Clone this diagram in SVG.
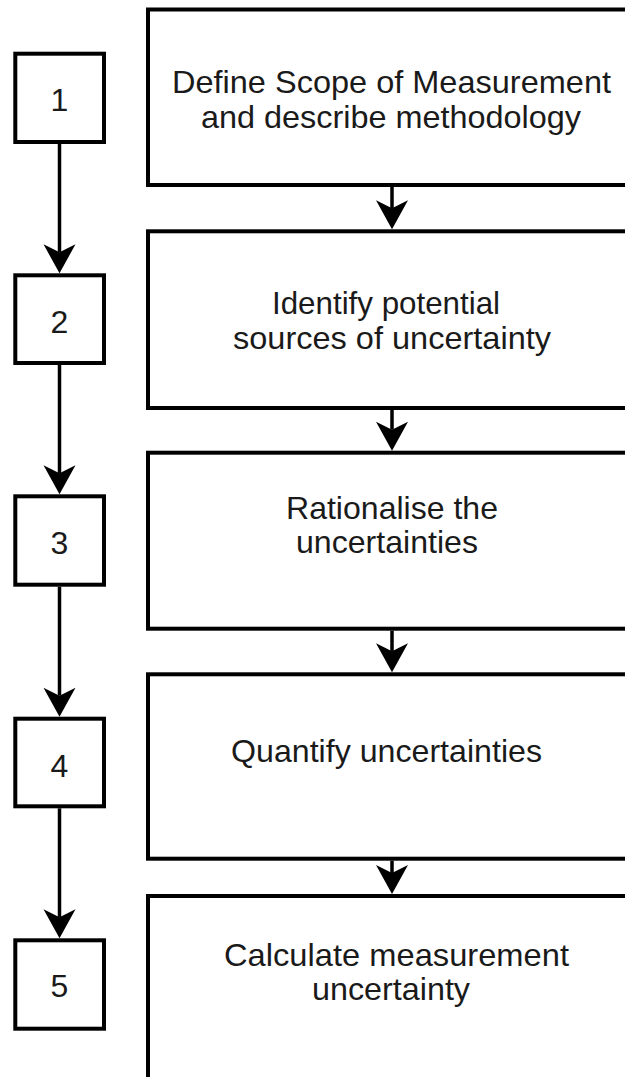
<svg xmlns="http://www.w3.org/2000/svg" width="625" height="1077" viewBox="0 0 625 1077">
  <style>
    .box { fill: #ffffff; stroke: #000000; stroke-width: 4; }
    .lbl { font-family: "Liberation Sans", Arial, sans-serif; font-size: 32px; fill: #1a1a1a; }
    .num { font-family: "Liberation Sans", Arial, sans-serif; font-size: 32px; fill: #1a1a1a; text-anchor: middle; }
    .conn { stroke: #000000; stroke-width: 3.5; fill: none; marker-end: url(#arrow); }
  </style>
  <defs>
    <marker id="arrow" markerUnits="userSpaceOnUse" viewBox="-9 -17 31 34" markerWidth="31" markerHeight="34" refX="0" refY="0" orient="auto">
      <path d="M21,0 L-8,-16 L0,0 L-8,16 Z" fill="#000000"/>
    </marker>
  </defs>
  <rect x="0" y="0" width="625" height="1077" fill="#ffffff"/>

  <g id="step1">
    <rect class="box" x="15.3" y="53.7" width="88.7" height="88.3"/>
    <text class="num" x="59.5" y="111">1</text>
  </g>
  <g id="step2">
    <rect class="box" x="15.3" y="275.3" width="88.7" height="87.7"/>
    <text class="num" x="59.5" y="333">2</text>
  </g>
  <g id="step3">
    <rect class="box" x="15.3" y="496.3" width="88.7" height="88.4"/>
    <text class="num" x="59.5" y="554">3</text>
  </g>
  <g id="step4">
    <rect class="box" x="15.3" y="718.7" width="88.7" height="87.6"/>
    <text class="num" x="59.5" y="777">4</text>
  </g>
  <g id="step5">
    <rect class="box" x="15.3" y="940.3" width="88.7" height="88.4"/>
    <text class="num" x="59.5" y="997">5</text>
  </g>

  <g id="task1">
    <rect class="box" x="148" y="9.5" width="500" height="175.5"/>
    <text class="lbl" x="172" y="93" textLength="439" lengthAdjust="spacingAndGlyphs">Define Scope of Measurement</text>
    <text class="lbl" x="201" y="128" textLength="380" lengthAdjust="spacingAndGlyphs">and describe methodology</text>
  </g>
  <g id="task2">
    <rect class="box" x="148" y="231.3" width="500" height="176.7"/>
    <text class="lbl" x="272" y="314" textLength="228" lengthAdjust="spacingAndGlyphs">Identify potential</text>
    <text class="lbl" x="233" y="349" textLength="318" lengthAdjust="spacingAndGlyphs">sources of uncertainty</text>
  </g>
  <g id="task3">
    <rect class="box" x="148" y="452.7" width="500" height="176"/>
    <text class="lbl" x="286" y="519" textLength="212" lengthAdjust="spacingAndGlyphs">Rationalise the</text>
    <text class="lbl" x="296" y="553" textLength="182" lengthAdjust="spacingAndGlyphs">uncertainties</text>
  </g>
  <g id="task4">
    <rect class="box" x="148" y="674.3" width="500" height="184.4"/>
    <text class="lbl" x="231" y="762" textLength="311" lengthAdjust="spacingAndGlyphs">Quantify uncertainties</text>
  </g>
  <g id="task5">
    <rect class="box" x="148" y="896" width="500" height="220"/>
    <text class="lbl" x="224" y="966" textLength="345" lengthAdjust="spacingAndGlyphs">Calculate measurement</text>
    <text class="lbl" x="312" y="1000" textLength="158" lengthAdjust="spacingAndGlyphs">uncertainty</text>
  </g>

  <g id="connectors">
    <line class="conn" x1="59.5" y1="144" x2="59.5" y2="252.3"/>
    <line class="conn" x1="59.5" y1="365" x2="59.5" y2="473.3"/>
    <line class="conn" x1="59.5" y1="586.7" x2="59.5" y2="695.7"/>
    <line class="conn" x1="59.5" y1="808.3" x2="59.5" y2="917.3"/>
    <line class="conn" x1="392" y1="187" x2="392" y2="208.3"/>
    <line class="conn" x1="392" y1="410" x2="392" y2="429.7"/>
    <line class="conn" x1="392" y1="630.7" x2="392" y2="651.3"/>
    <line class="conn" x1="392" y1="860.7" x2="392" y2="873"/>
  </g>
</svg>
